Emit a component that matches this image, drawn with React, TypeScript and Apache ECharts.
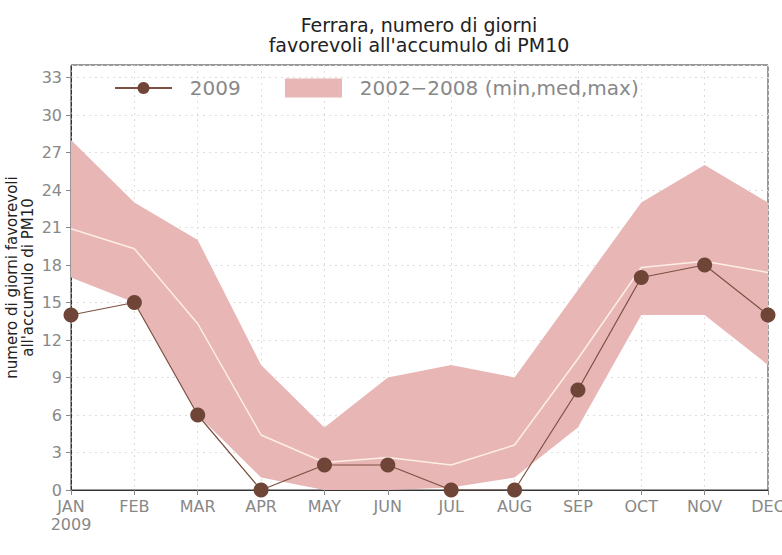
import React, { useEffect, useRef } from "react";
import * as echarts from "echarts";

const months = ["JAN", "FEB", "MAR", "APR", "MAY", "JUN", "JUL", "AUG", "SEP", "OCT", "NOV", "DEC"];
const yTicks = [0, 3, 6, 9, 12, 15, 18, 21, 24, 27, 30, 33];
const values2009 = [14, 15, 6, 0, 2, 2, 0, 0, 8, 17, 18, 14];
const minValues = [17, 15, 6, 1, 0, 0, 0.2, 1, 5, 14, 14, 10];
const medValues = [20.9, 19.3, 13.3, 4.4, 2.2, 2.6, 2, 3.6, 10.5, 17.8, 18.3, 17.4];
const maxValues = [28, 23, 20, 10, 5, 9, 10, 9, 16, 23, 26, 23];

const BAND = "#e8b6b5";
const BROWN = "#6e4536";
const BAND_NAME = "2002\u22122008 (min,med,max)";

export default function App() {
  const ref = useRef<HTMLDivElement>(null);
  useEffect(() => {
    if (!ref.current) return;
    const chart = echarts.init(ref.current, undefined, { renderer: "svg" });
    const font = "DejaVu Sans";
    chart.setOption({
      animation: false,
      backgroundColor: "#ffffff",
      title: {
        text: "Ferrara, numero di giorni",
        subtext: "favorevoli all'accumulo di PM10",
        left: 419,
        top: 15,
        padding: 0,
        itemGap: 1,
        textAlign: "center",
        textStyle: { fontFamily: font, fontSize: 19, fontWeight: "normal", color: "#222" },
        subtextStyle: { fontFamily: font, fontSize: 19, fontWeight: "normal", color: "#222" },
      },
      legend: [
        {
          data: ["2009"],
          left: 114,
          top: 78,
          padding: 0,
          itemWidth: 57,
          itemHeight: 15,
          selectedMode: false,
          formatter: (n: string) => "  " + n,
          textStyle: { fontFamily: font, fontSize: 20, color: "#888" },
        },
        {
          data: [{ name: BAND_NAME, icon: "rect", itemStyle: { color: BAND } }],
          left: 285,
          top: 78,
          padding: 0,
          itemWidth: 57,
          itemHeight: 19,
          selectedMode: false,
          formatter: (n: string) => "  " + n,
          textStyle: { fontFamily: font, fontSize: 20, color: "#888" },
        },
      ],
      grid: {
        left: 71,
        right: 14,
        top: 65,
        bottom: 65,
        containLabel: false,
        outerBoundsMode: "none",
        show: true,
        borderColor: "#333",
        borderWidth: 1,
      },
      xAxis: {
        type: "category",
        data: months,
        boundaryGap: false,
        axisLine: { lineStyle: { color: "#333" } },
        axisTick: { show: true, length: 5, inside: false, lineStyle: { color: "#888" } },
        axisLabel: {
          fontFamily: font,
          fontSize: 16,
          color: "#888",
          margin: 7,
          lineHeight: 18,
          formatter: (v: string, i: number) => (i === 0 ? v + "\n2009" : v),
        },
        splitLine: { show: true, lineStyle: { color: "#ddd", type: [2, 4] } },
      },
      yAxis: {
        type: "value",
        min: 0,
        max: 34,
        interval: 3,
        name: "numero di giorni favorevoli\nall'accumulo di PM10",
        nameLocation: "middle",
        nameGap: 35,
        nameMoveOverlap: false,
        nameTextStyle: { fontFamily: font, fontSize: 15, color: "#222", lineHeight: 16 },
        axisLine: { show: true, lineStyle: { color: "#333", type: "dashed" } },
        axisTick: { show: true, length: 5, lineStyle: { color: "#888" } },
        axisLabel: {
          fontFamily: font,
          fontSize: 16,
          color: "#888",
          margin: 9,
          showMaxLabel: false,
          formatter: (v: number) => (yTicks.indexOf(v) >= 0 ? String(v) : ""),
        },
        splitLine: { show: true, lineStyle: { color: "#ddd", type: [2, 4] } },
      },
      series: [
        {
          name: "bandBase",
          type: "line",
          data: minValues,
          stack: "band",
          symbol: "none",
          lineStyle: { opacity: 0 },
          areaStyle: { opacity: 0 },
          silent: true,
          z: 1,
        },
        {
          name: BAND_NAME,
          type: "line",
          data: maxValues.map((v, i) => v - minValues[i]),
          stack: "band",
          symbol: "none",
          itemStyle: { color: BAND },
          lineStyle: { opacity: 0 },
          areaStyle: { color: BAND, opacity: 1 },
          silent: true,
          z: 2,
        },
        {
          name: "median",
          type: "line",
          data: medValues,
          symbol: "none",
          lineStyle: { color: "#fdeee6", width: 1.5 },
          silent: true,
          z: 3,
        },
        {
          name: "2009",
          type: "line",
          data: values2009,
          symbol: "circle",
          symbolSize: 15,
          itemStyle: { color: BROWN },
          lineStyle: { color: "#7a5142", width: 1.2 },
          z: 4,
        },
      ],
    });
    return () => chart.dispose();
  }, []);
  return <div ref={ref} style={{ width: 782, height: 555, position: "absolute", left: 0, top: 0 }} />;
}
